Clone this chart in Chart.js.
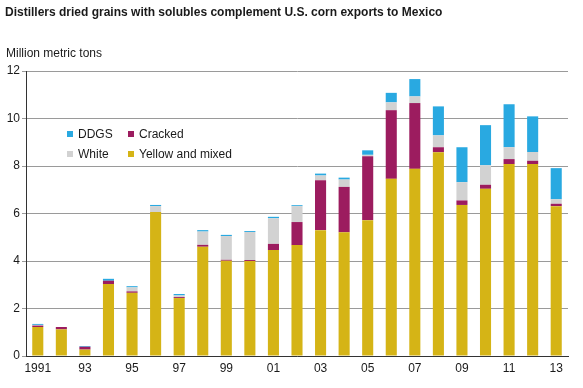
<!DOCTYPE html>
<html>
<head>
<meta charset="utf-8">
<script src="https://cdn.jsdelivr.net/npm/chart.js@4.4.1/dist/chart.umd.min.js"></script>
<style>
    html, body { margin: 0; padding: 0; background: #fff; }
    #wrap { width: 583px; height: 388px; position: relative; }
</style>
</head>
<body>
<div id="wrap"><canvas id="corn_chart"></canvas></div>
<script>
// Data (million metric tons)
const years = ["1991", "1992", "1993", "1994", "1995", "1996", "1997", "1998", "1999", "2000", "2001", "2002",
    "2003", "2004", "2005", "2006", "2007", "2008", "2009", "2010", "2011", "2012", "2013"]
const tick_labels = ["1991", "", "93", "", "95", "", "97", "", "99", "", "01", "", "03", "", "05", "", "07", "", "09", "", "11", "", "13"]
const yellow_mixed = [1.22, 1.12, 0.27, 3.03, 2.66, 6.06, 2.44, 4.60, 4.01, 4.00, 4.46, 4.67, 5.30, 5.21, 5.72, 7.46, 7.88, 8.58, 6.36, 7.04, 8.08, 8.08, 6.31]
const cracked = [0.06, 0.10, 0.12, 0.14, 0.06, 0.00, 0.04, 0.08, 0.04, 0.04, 0.26, 0.97, 2.10, 1.91, 2.69, 2.89, 2.77, 0.21, 0.19, 0.17, 0.21, 0.14, 0.10]
const white = [0.03, 0.00, 0.00, 0.00, 0.17, 0.25, 0.07, 0.56, 1.00, 1.18, 1.08, 0.67, 0.20, 0.31, 0.06, 0.33, 0.28, 0.50, 0.77, 0.82, 0.50, 0.37, 0.19]
const ddgs = [0.04, 0.00, 0.03, 0.08, 0.05, 0.05, 0.06, 0.06, 0.05, 0.04, 0.06, 0.04, 0.08, 0.08, 0.19, 0.40, 0.73, 1.22, 1.47, 1.69, 1.81, 1.50, 1.31]
const y_ticks = [0, 2, 4, 6, 8, 10, 12]

const COLORS = {
    ddgs: "#29A9E1",
    cracked: "#9C1C5F",
    white: "#D2D2D2",
    yellow: "#D5B416"
}

const FONT = "'Liberation Sans', Arial, sans-serif"

// title, unit label and legend are painted by hand
const textPlugin = {
    id: "textPlugin",
    afterDraw(chart) {
        const ctx = chart.ctx
        ctx.save()
        ctx.fillStyle = "#1a1a1a"
        ctx.textBaseline = "alphabetic"
        ctx.textAlign = "left"
        ctx.font = "bold 12px " + FONT
        ctx.fillText("Distillers dried grains with solubles complement U.S. corn exports to Mexico", 5, 16)
        ctx.font = "12px " + FONT
        ctx.fillText("Million metric tons", 6, 57)

        const items = [
            ["DDGS", COLORS.ddgs, 67, 134],
            ["Cracked", COLORS.cracked, 128, 134],
            ["White", COLORS.white, 67, 154],
            ["Yellow and mixed", COLORS.yellow, 128, 154]
        ]
        ctx.font = "12px " + FONT
        ctx.textBaseline = "middle"
        items.forEach(([label, color, x, y]) => {
            ctx.fillStyle = color
            ctx.fillRect(x, y - 3, 6, 6)
            ctx.fillStyle = "#1a1a1a"
            ctx.fillText(label, x + 11, y + 1)
        })
        ctx.restore()
    }
}

const ctx_corn = document.getElementById("corn_chart").getContext("2d")
new Chart(ctx_corn, {
    type: "bar",
    data: {
        labels: years,
        datasets: [
            { label: "Yellow and mixed", data: yellow_mixed, backgroundColor: COLORS.yellow },
            { label: "Cracked", data: cracked, backgroundColor: COLORS.cracked },
            { label: "White", data: white, backgroundColor: COLORS.white },
            { label: "DDGS", data: ddgs, backgroundColor: COLORS.ddgs }
        ]
    },
    options: {
        responsive: true,
        maintainAspectRatio: false,
        animation: false,
        layout: { padding: { top: 71, right: 15, left: 0, bottom: 0 } },
        plugins: {
            legend: { display: false },
            title: { display: false },
            tooltip: { enabled: false }
        },
        datasets: {
            bar: { barPercentage: 0.47, categoryPercentage: 1.0 }
        },
        scales: {
            x: {
                stacked: true,
                grid: { display: false, drawTicks: false },
                border: { display: true, color: "#333", width: 1 },
                afterFit(scale) { scale.height = 32 },
                ticks: {
                    autoSkip: false,
                    maxRotation: 0,
                    padding: 5,
                    color: "#1a1a1a",
                    font: { family: FONT, size: 12 },
                    callback: (val, i) => tick_labels[i]
                }
            },
            y: {
                stacked: true,
                min: 0,
                max: 12,
                afterFit(scale) { scale.width = 26 },
                afterBuildTicks(scale) { scale.ticks = y_ticks.map(v => ({ value: v })) },
                grid: { color: "#9a9a9a", lineWidth: 1, tickLength: 4, drawTicks: true },
                border: { display: true, color: "#333", width: 1 },
                ticks: {
                    padding: 2,
                    color: "#1a1a1a",
                    font: { family: FONT, size: 12 }
                }
            }
        }
    },
    plugins: [textPlugin]
})
</script>
</body>
</html>
